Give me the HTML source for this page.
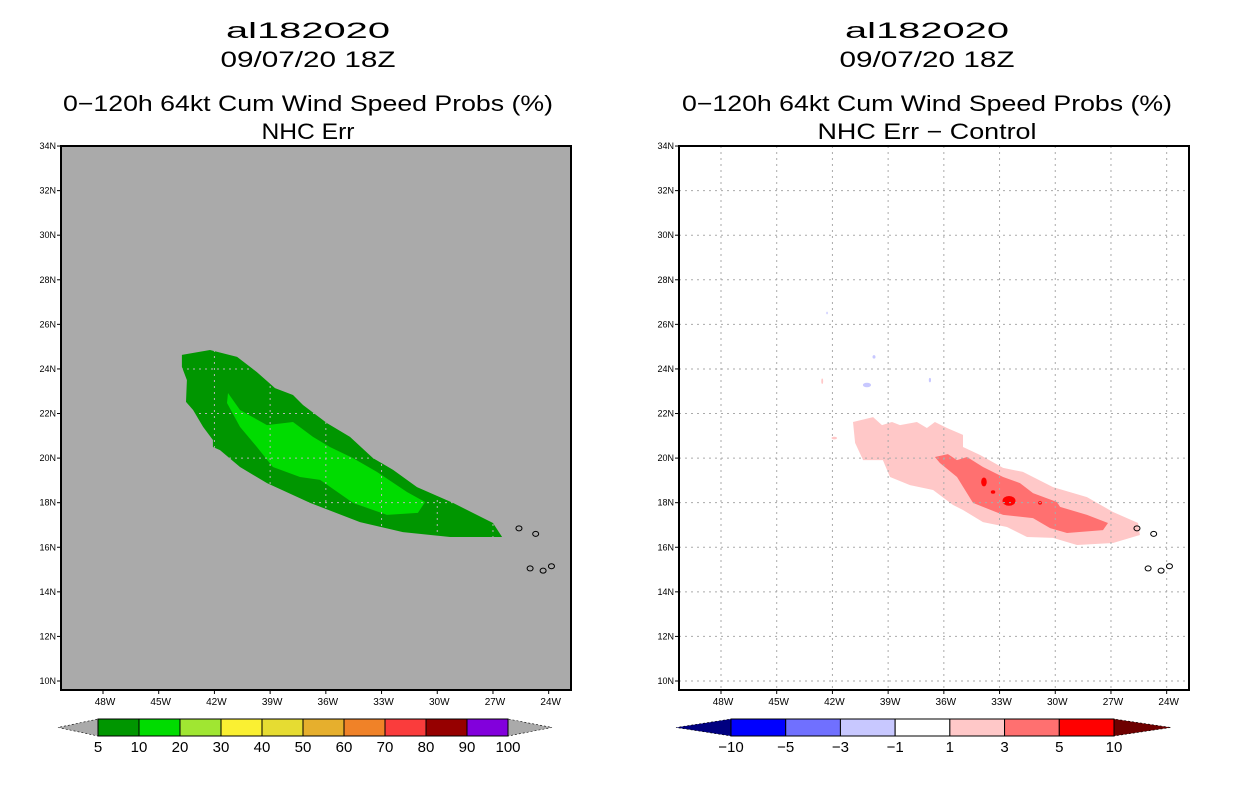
<!DOCTYPE html>
<html><head><meta charset="utf-8"><style>
html,body{margin:0;padding:0;background:#fff;}
svg{display:block;font-family:"Liberation Sans","DejaVu Sans",sans-serif;}
</style></head><body>
<svg id="root" width="1236" height="800" viewBox="0 0 1236 800" xmlns="http://www.w3.org/2000/svg"></svg>
<script>
// ---- data ----
const lonTicks = [48,45,42,39,36,33,30,27,24];
const latTicks = [10,12,14,16,18,20,22,24,26,28,30,32,34];
// left panel contours [lonW, latN]
const prob5 = [[43.75,24.63],[42.24,24.85],[40.78,24.54],[39.71,23.86],[38.74,23.14],[37.77,22.83],[37.23,22.38],[35.94,21.57],[34.70,20.95],[33.46,20.00],[32.38,19.47],[31.09,18.70],[29.15,17.99],[27.00,17.09],[26.51,16.46],[29.31,16.46],[31.85,16.68],[34.16,17.13],[36.85,17.99],[39.17,18.88],[40.62,19.60],[41.70,20.36],[42.08,20.50],[42.08,20.81],[42.61,21.40],[43.15,22.16],[43.53,22.52],[43.48,23.50],[43.75,24.09]];
const prob10 = [[41.27,22.92],[40.62,22.16],[39.17,21.48],[37.77,21.62],[36.69,20.95],[35.78,20.50],[34.54,20.00],[33.25,19.38],[31.63,18.48],[30.66,18.03],[31.04,17.54],[32.71,17.45],[34.54,17.99],[36.31,19.02],[37.39,19.15],[38.85,19.60],[39.71,20.50],[40.62,21.40],[41.32,22.47]];
// right panel difference contours
const diff1 = [[40.89,21.62],[39.81,21.84],[39.33,21.48],[38.79,21.62],[38.36,21.48],[37.45,21.62],[36.91,21.35],[36.48,21.62],[35.83,21.35],[34.97,21.04],[34.97,20.50],[34.05,20.14],[32.81,19.56],[31.74,19.38],[30.12,18.70],[28.29,18.25],[26.89,17.58],[25.54,17.09],[25.44,16.55],[26.89,16.19],[28.83,16.10],[30.12,16.42],[31.52,16.46],[32.60,16.91],[33.89,17.13],[34.97,17.67],[35.51,17.90],[36.58,18.57],[37.82,18.79],[38.90,19.15],[39.28,19.91],[40.35,19.91],[40.78,20.68]];
const diff3 = [[36.48,20.05],[35.78,20.18],[35.29,19.91],[34.75,20.05],[33.89,19.60],[32.81,19.15],[31.90,18.88],[31.20,18.43],[29.91,18.03],[29.74,17.81],[28.29,17.45],[27.16,17.09],[27.43,16.77],[29.37,16.64],[30.28,16.86],[31.20,17.31],[32.81,17.45],[34.43,17.99],[35.29,19.15],[36.21,19.78]];
const diff5Blobs = [[33.84,18.93,0.15,0.2],[33.35,18.48,0.12,0.08],[32.49,18.08,0.35,0.22],[30.82,17.99,0.1,0.08]];
const diffNegBlobs = [[39.76,24.54,0.08,0.08],[40.14,23.28,0.22,0.1],[36.75,23.50,0.06,0.1],[42.29,26.51,0.04,0.06]];
const diffPosSmall = [[42.55,23.45,0.05,0.12],[41.9,20.9,0.15,0.06]];
const islands = [[25.6,16.85],[24.7,16.6],[25.0,15.05],[24.3,14.95],[23.85,15.15]];
const probLevels = ["5","10","20","30","40","50","60","70","80","90","100"];
const probColors = ["#009600","#00dc00","#a0e632","#faf032","#e6dc32","#e6af2d","#f08228","#fa3c3c","#960000","#8200dc"];
const diffLevels = ["−10","−5","−3","−1","1","3","5","10"];
const diffColors = ["#0000ff","#7070ff","#c8c8ff","#ffffff","#ffc8c8","#ff7070","#ff0000"];

const NS="http://www.w3.org/2000/svg";
const root=document.getElementById('root');
function el(tag,attrs,parent,text){const e=document.createElementNS(NS,tag);for(const k in attrs)e.setAttribute(k,attrs[k]);if(text!==undefined)e.textContent=text;(parent||root).appendChild(e);return e;}

function makePanel(ox, name){
  const L=ox+61,R=ox+571,T=146,B=690;
  const X=w=>ox+103+(48-w)*18.57;
  const Y=n=>681-(n-10)*22.29;
  const g=el('g',{});
  
  
  return {L,R,T,B,X,Y,g};
}
function pts(p,arr){return arr.map(q=>p.X(q[0]).toFixed(1)+','+p.Y(q[1]).toFixed(1)).join(' ');}
function poly(p,arr,fill,name){
  const e=el('polygon',{points:pts(p,arr),fill:fill},p.g);
  
  
}
function blob(p,b,fill,name){
  const e=el('ellipse',{cx:p.X(b[0]),cy:p.Y(b[1]),rx:b[2]*18.57,ry:b[3]*22.29,fill:fill},p.g);
  
  
}
function grid(p,parent,color){
  lonTicks.forEach(w=>{const e=el('line',{x1:p.X(w),x2:p.X(w),y1:p.T,y2:p.B,stroke:color,'stroke-dasharray':'2,4'},parent);
    
    });
  latTicks.forEach(n=>{const e=el('line',{x1:p.L,x2:p.R,y1:p.Y(n),y2:p.Y(n),stroke:color,'stroke-dasharray':'2,4'},parent);
    
    });
}
function axes(p){
  islands.forEach(q=>{const e=el('ellipse',{cx:p.X(q[0]),cy:p.Y(q[1]),rx:3,ry:2.5,fill:'none',stroke:'#000','stroke-width':1},p.g);
    
    });
  const f=el('rect',{x:p.L,y:p.T,width:p.R-p.L,height:p.B-p.T,fill:'none',stroke:'#000','stroke-width':2},p.g);
  
  
  latTicks.forEach(n=>{
    el('line',{x1:p.L-4,x2:p.L,y1:p.Y(n),y2:p.Y(n),stroke:'#000'},p.g);
    const t=el('text',{x:p.L-5,y:p.Y(n)+3,'font-size':9,'text-anchor':'end'},p.g,n+'N');
    
    
  });
  lonTicks.forEach(w=>{
    el('line',{x1:p.X(w),x2:p.X(w),y1:p.B,y2:p.B+4,stroke:'#000'},p.g);
    const t=el('text',{x:p.X(w)+2,y:p.B+15,'font-size':10,'text-anchor':'middle'},p.g,w+'W');
    
    
  });
}
function titles(cx,l3,l4,w4){
  [['al182020',38,'storm-id',164],['09/07/20 18Z',67,'date-title',175],[l3,111,'product-title',490],[l4,139,'subtitle',w4]].forEach(a=>{
    const t=el('text',{x:cx-a[3]/2,y:a[1],'font-size':22,textLength:a[3],lengthAdjust:'spacingAndGlyphs'},root,a[0]);
    
    
  });
}
function colorbar(x0,x1,colors,labels,leftTip,rightTip,tipL,tipR,name){
  const g=el('g',{});
  
  
  const y0=719,y1=736,ym=727.5,w=(x1-x0)/colors.length;
  el('polygon',{points:`${x0},${y0} ${x0},${y1} ${x0-tipL},${ym}`,fill:leftTip,stroke:'#000','stroke-dasharray':'2,2','stroke-width':0.6},g);
  el('polygon',{points:`${x1},${y0} ${x1},${y1} ${x1+tipR},${ym}`,fill:rightTip,stroke:'#000','stroke-dasharray':'2,2','stroke-width':0.6},g);
  colors.forEach((c,i)=>{
    const r=el('rect',{x:x0+i*w,y:y0,width:w,height:y1-y0,fill:c,stroke:'#000','stroke-width':1},g);
    
    
  });
  labels.forEach((s,i)=>{
    const t=el('text',{x:x0+i*w,y:752,'font-size':15,'text-anchor':'middle'},g,s);
    
    
  });
}

// left panel
const pL=makePanel(0,'left-map');
el('rect',{x:pL.L,y:pL.T,width:pL.R-pL.L,height:pL.B-pL.T,fill:'#aaaaaa'},pL.g);
poly(pL,prob5,probColors[0],'prob-5-contour');
poly(pL,prob10,probColors[1],'prob-10-contour');
const defs=el('defs',{});
const cp=el('clipPath',{id:'greenClip'},defs);
el('polygon',{points:pts(pL,prob5)},cp);
const gg=el('g',{'clip-path':'url(#greenClip)'},pL.g);


grid(pL,gg,'#b4b4b4');
axes(pL);
titles(308,'0−120h 64kt Cum Wind Speed Probs (%)','NHC Err',93);
colorbar(98,508,probColors,probLevels,'#aaaaaa','#aaaaaa',40,44,'prob-colorbar');

// right panel
const pR=makePanel(618,'right-map');
el('rect',{x:pR.L,y:pR.T,width:pR.R-pR.L,height:pR.B-pR.T,fill:'#fff'},pR.g);
poly(pR,diff1,diffColors[4],'diff-1-contour');
poly(pR,diff3,diffColors[5],'diff-3-contour');
diff5Blobs.forEach(b=>blob(pR,b,diffColors[6],'diff-5-blob'));
diffNegBlobs.forEach(b=>blob(pR,b,diffColors[2],'diff-neg-blob'));
diffPosSmall.forEach(b=>blob(pR,b,diffColors[4],'diff-pos-blob'));
grid(pR,pR.g,'#aaa');
axes(pR);
titles(927,'0−120h 64kt Cum Wind Speed Probs (%)','NHC Err − Control',219);
colorbar(731,1114,diffColors,diffLevels,'#000080','#6e0000',55,57,'diff-colorbar');
</script>
</body></html>
